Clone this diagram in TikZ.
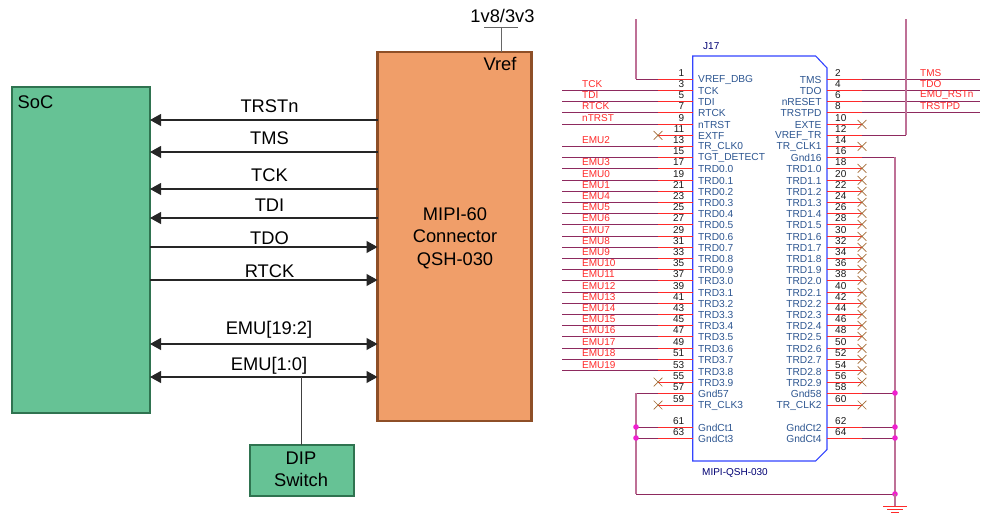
\documentclass[tikz,border=0pt]{standalone}
\usepackage{fontspec}
\setmainfont{Liberation Sans}
\usepackage{xcolor}
\usepackage{tikz}
\usetikzlibrary{arrows.meta,shapes.misc}

\definecolor{socfill}{HTML}{66C295}
\definecolor{socedge}{HTML}{2F7350}
\definecolor{connfill}{HTML}{F09E69}
\definecolor{connedge}{HTML}{8E4F27}
\definecolor{pinred}{HTML}{FF2A2A}
\definecolor{netwire}{HTML}{8E2A5E}
\definecolor{railwire}{HTML}{BE7096}
\definecolor{pinblue}{HTML}{3344FF}
\definecolor{pintext}{HTML}{2C5590}
\definecolor{junction}{HTML}{F020D0}

\begin{document}
\begin{tikzpicture}[
  x=1pt, y=-1pt,
  >={Triangle[length=11pt,width=12pt]},
  block/.style={draw=socedge, fill=socfill, line width=2pt, minimum width=#1, inner sep=0pt, outer sep=0pt},
  conn/.style={draw=connedge, fill=connfill, line width=2.4pt, inner sep=0pt, outer sep=0pt},
  siglabel/.style={font=\fontsize{18.3}{18.3}\selectfont, anchor=base},
  sigline/.style={draw=black!85, line width=1.1pt},
  pinwire/.style={draw=pinred, line width=1pt},
  netline/.style={draw=netwire, line width=1pt},
  railline/.style={draw=railwire, line width=1.5pt},
  pinname/.style={font=\fontsize{10.2}{10.2}\selectfont, text=pintext, inner sep=0pt},
  pinnum/.style={font=\fontsize{10}{10}\selectfont, text=black!90, inner sep=0pt},
  netname/.style={font=\fontsize{10}{10}\selectfont, text=pinred, inner sep=0pt, anchor=west},
  ncmark/.style={cross out, draw=brown!85!black, line width=0.7pt, minimum size=8pt, inner sep=0pt},
  dotmark/.style={circle, fill=junction, minimum size=5.6pt, inner sep=0pt},
]
\useasboundingbox (0,0) rectangle (986,514);
\def\xbodyl{692.7}   % symbol left edge
\def\xbodyr{827}     % symbol right edge
\def\xgndl{636}
\def\xgndr{895}

% ─── Block diagram ─────────────────────────────────────────────────────────
\node[block=138pt, minimum height=326pt] (soc) at (81,249.5) {};
\node[conn, minimum width=154pt, minimum height=369pt] (mipi) at (454.5,236.5) {};
\node[block=104pt, minimum height=51pt] (dip) at (301.5,470) {};
\node[anchor=base west, font=\fontsize{18.3}{18.3}\selectfont, inner sep=0pt] (soclabel) at (17.5,108.7) {SoC};
\node[siglabel] (vreflabel) at (500,70.7) {Vref};
\node[siglabel] (mipi60) at (455,220) {MIPI-60};
\node[siglabel] (mipiconn) at (455,242.3) {Connector};
\node[siglabel] (mipiqsh) at (455,265) {QSH-030};
\node[siglabel] (dip1) at (301,464) {DIP};
\node[siglabel] (dip2) at (301,486.7) {Switch};

% Supply stub
\node[siglabel] (vsupply) at (502.5,22) {1v8/3v3};
\coordinate (vbar) at (501,27.5);
\draw[draw=black!60, line width=0.9pt] (484,27.5) -- (518,27.5);
\draw[draw=black!60, line width=0.9pt] (vbar) -- (vbar |- mipi.north);

% Signals from the connector to the SoC
\foreach \sig/\yy/\ybase in {TRSTn/120/112, TMS/152/144.7, TCK/189/181.7, TDI/218/211.3} {
  \draw[sigline, ->] (mipi.west |- 0,\yy) -- (soc.east |- 0,\yy);
  \node[siglabel] (lbl\sig) at (269.5,\ybase) {\sig};
}
% Signals from the SoC to the connector
\foreach \sig/\yy/\ybase in {TDO/247/244, RTCK/280/277} {
  \draw[sigline, ->] (soc.east |- 0,\yy) -- (mipi.west |- 0,\yy);
  \node[siglabel] (lbl\sig) at (269.5,\ybase) {\sig};
}
% Bidirectional EMU buses
\draw[sigline, <->] (soc.east |- 0,344) -- (mipi.west |- 0,344);
\node[siglabel] (lblemuhi) at (269,334.7) {EMU[19:2]};
\draw[sigline, <->] (soc.east |- 0,377) -- (mipi.west |- 0,377);
\node[siglabel] (lblemulo) at (269,370.7) {EMU[1:0]};
\draw[draw=black!75, line width=0.9pt] (dip.north |- 0,377) -- (dip.north);

% ─── Connector symbol ──────────────────────────────────────────────────────
\draw[draw=pinblue, line width=1.1pt]
  (\xbodyl,56) -- (815.7,56) -- (\xbodyr,68) -- (\xbodyr,449.5) -- (815.7,461) -- (\xbodyl,461) -- cycle;
\node[font=\fontsize{10}{10}\selectfont, text=blue!45!black, inner sep=0pt, anchor=base west] (refdes) at (703,49) {J17};
\node[font=\fontsize{10}{10}\selectfont, text=blue!45!black, inner sep=0pt, anchor=base west] (partname) at (702,475) {MIPI-QSH-030};

% Odd pins, left side
\foreach \n/\yy/\lbl in {1/79.3/VREF\_DBG, 3/90.3/TCK, 5/101.3/TDI, 7/112.3/RTCK, 9/124.3/nTRST,
    11/135.3/EXTF, 13/146.3/TR\_CLK0, 15/157.3/TGT\_DETECT, 17/168.3/TRD0.0, 19/180.3/TRD0.1,
    21/191.3/TRD0.2, 23/202.3/TRD0.3, 25/213.3/TRD0.4, 27/224.3/TRD0.5, 29/236.3/TRD0.6,
    31/247.3/TRD0.7, 33/258.3/TRD0.8, 35/269.3/TRD0.9, 37/280.3/TRD3.0, 39/292.3/TRD3.1,
    41/303.3/TRD3.2, 43/314.3/TRD3.3, 45/325.3/TRD3.4, 47/336.3/TRD3.5, 49/348.3/TRD3.6,
    51/359.3/TRD3.7, 53/370.7/TRD3.8, 55/382/TRD3.9, 57/393/Gnd57, 59/405/TR\_CLK3,
    61/427/GndCt1, 63/438/GndCt3} {
  \coordinate (pin\n) at (\xbodyl,\yy);
  \coordinate (end\n) at (658,\yy);
  \draw[pinwire] (pin\n) -- (end\n);
  \node[pinname, anchor=west] (name\n) at (698,\yy+1) {\lbl};
  \node[pinnum, anchor=east] (num\n) at (684.5,\yy-6) {\n};
}
% Even pins, right side
\foreach \n/\yy/\lbl in {2/79.3/TMS, 4/90.3/TDO, 6/101.3/nRESET, 8/112.3/TRSTPD, 10/124.3/EXTE,
    12/135.3/VREF\_TR, 14/146.3/TR\_CLK1, 16/157.3/Gnd16, 18/168.3/TRD1.0, 20/180.3/TRD1.1,
    22/191.3/TRD1.2, 24/202.3/TRD1.3, 26/213.3/TRD1.4, 28/224.3/TRD1.5, 30/236.3/TRD1.6,
    32/247.3/TRD1.7, 34/258.3/TRD1.8, 36/269.3/TRD1.9, 38/280.3/TRD2.0, 40/292.3/TRD2.1,
    42/303.3/TRD2.2, 44/314.3/TRD2.3, 46/325.3/TRD2.4, 48/336.3/TRD2.5, 50/348.3/TRD2.6,
    52/359.3/TRD2.7, 54/370.7/TRD2.8, 56/382/TRD2.9, 58/393/Gnd58, 60/405/TR\_CLK2,
    62/427/GndCt2, 64/438/GndCt4} {
  \coordinate (pin\n) at (\xbodyr,\yy);
  \coordinate (end\n) at (862,\yy);
  \draw[pinwire] (pin\n) -- (end\n);
  \node[pinname, anchor=east] (name\n) at (821.7,\yy+1) {\lbl};
  \node[pinnum, anchor=west] (num\n) at (835,\yy-6) {\n};
}

% ─── Nets ──────────────────────────────────────────────────────────────────
\foreach \n/\lbl in {3/TCK, 5/TDI, 7/RTCK, 9/nTRST, 13/EMU2, 17/EMU3, 19/EMU0, 21/EMU1, 23/EMU4,
    25/EMU5, 27/EMU6, 29/EMU7, 31/EMU8, 33/EMU9, 35/EMU10, 37/EMU11, 39/EMU12, 41/EMU13,
    43/EMU14, 45/EMU15, 47/EMU16, 49/EMU17, 51/EMU18, 53/EMU19} {
  \coordinate (stub\n) at ([xshift=-96pt]end\n);
  \draw[netline] (end\n) -- (stub\n);
  \node[netname] (net\n) at ([xshift=20pt,yshift=6pt]stub\n) {\lbl};
}
\coordinate (stub15) at ([xshift=-96pt]end15);
\draw[netline] (end15) -- (stub15);

\foreach \n/\lbl in {2/TMS, 4/TDO, 6/EMU\_RSTn, 8/TRSTPD} {
  \coordinate (stub\n) at ([xshift=118pt]end\n);
  \draw[netline] (end\n) -- (stub\n);
  \node[netname] (net\n) at ([xshift=58pt,yshift=6pt]end\n) {\lbl};
}

% Reference rails
\coordinate (railtopl) at (\xgndl,19);
\coordinate (railtopr) at (906,19);
\draw[railline] (railtopl) -- (railtopl |- end1);
\draw[railline] (railtopr) -- (railtopr |- end12);
\draw[netline] (railtopl |- end1) -- (end1);
\draw[netline] (railtopr |- end12) -- (end12);

% Ground rails
\coordinate (gndcorner) at (\xgndr,494);
\coordinate (gndleft) at (\xgndl,494);
\coordinate (gndbase) at (\xgndr,506);
\draw[netline] (end16) -- (end16 -| gndcorner);
\draw[railline] (end16 -| gndcorner) -- (gndcorner);
\draw[netline] (end57) -- (end57 -| gndleft);
\draw[railline] (end57 -| gndleft) -- (gndleft);
\draw[netline] (gndleft) -- (gndcorner);
\draw[netline] (end61) -- (end61 -| gndleft);
\draw[netline] (end63) -- (end63 -| gndleft);
\foreach \n in {58,62,64} {
  \draw[netline] (end\n) -- (end\n -| gndcorner);
  \node[dotmark] (dot\n) at (end\n -| gndcorner) {};
}
\node[dotmark] (dot61) at (end61 -| gndleft) {};
\node[dotmark] (dot63) at (end63 -| gndleft) {};
\node[dotmark] (dotgnd) at (gndcorner) {};
\draw[railline] (gndcorner) -- (gndbase);
\draw[pinwire] (883,506) -- (907,506);
\draw[pinwire] (887,509) -- (903,509);
\draw[pinwire] (891,512) -- (899,512);

% No-connect marks
\foreach \n in {11,55,59,10,14,18,20,22,24,26,28,30,32,34,36,38,40,42,44,46,48,50,52,54,56,60} {
  \node[ncmark] (nc\n) at (end\n) {};
}
\end{tikzpicture}
\end{document}
